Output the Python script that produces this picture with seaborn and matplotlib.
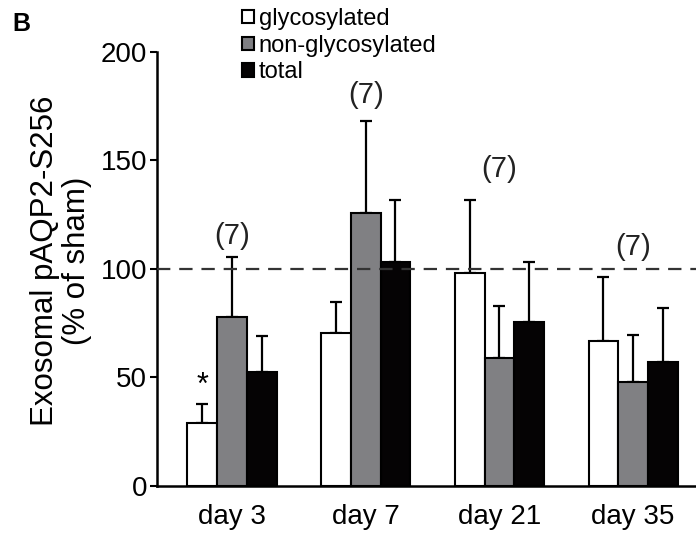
import pandas as pd
import numpy as np
import matplotlib.pyplot as plt
import seaborn as sns
from matplotlib.patches import Patch

# --- data ---
days = ['day 3', 'day 7', 'day 21', 'day 35']
series = ['glycosylated', 'non-glycosylated', 'total']
glyc = [29, 70.5, 98, 67]
glyc_err = [9, 14.5, 34, 29.5]
nonglyc = [78, 126, 59, 48]
nonglyc_err = [27.5, 42, 24, 21.5]
total = [52.5, 103, 75.5, 57]
total_err = [16.5, 29, 27.5, 25]
n_labels = ['(7)', '(7)', '(7)', '(7)']
n_label_y = [115, 180, 146, 110]
colors = ['white', '#7f7f83', '#050304']

df = pd.DataFrame({
    'day': days * 3,
    'type': np.repeat(series, len(days)),
    'value': glyc + nonglyc + total,
    'err': glyc_err + nonglyc_err + total_err,
})

# --- plot ---
sns.set_style('ticks')
plt.rcParams['font.family'] = ['Liberation Sans', 'DejaVu Sans']
plt.rcParams.update({'text.color': 'black', 'axes.labelcolor': 'black',
                     'xtick.color': 'black', 'ytick.color': 'black'})

fig = plt.figure(figsize=(6.96, 5.35), dpi=100)
ax = fig.add_axes([0.2256, 0.0916, 0.7744, 0.8112])

sns.barplot(data=df, x='day', y='value', hue='type', palette=colors,
            edgecolor='black', linewidth=1.5, width=0.667, gap=0,
            errorbar=None, legend=False, ax=ax, zorder=3)

# one-sided error bars (SEM, upward only)
for cont, s in zip(ax.containers, series):
    errs = df.loc[df['type'] == s, 'err'].values
    xs = [p.get_x() + p.get_width() / 2 for p in cont.patches]
    hs = [p.get_height() for p in cont.patches]
    ax.errorbar(xs, hs, yerr=[np.zeros(len(errs)), errs], fmt='none',
                ecolor='black', elinewidth=1.6, capsize=4.2, capthick=1.6,
                zorder=2)

# significance star on day 3 glycosylated
p0 = ax.containers[0].patches[0]
ax.text(p0.get_x() + p0.get_width() / 2, glyc[0] + glyc_err[0] + 1, '*',
        ha='center', va='bottom', fontsize=22)

# n labels
for i, (lab, y) in enumerate(zip(n_labels, n_label_y)):
    ax.text(i, y, lab, ha='center', va='center', fontsize=21, color='#222222')

ax.axhline(100, color='#333333', linestyle=(0, (6, 4)), linewidth=1.6, zorder=4)

ax.set_ylim(0, 200)
ax.set_xlim(-0.56, 3.47)
ax.set_yticks([0, 50, 100, 150, 200])
ax.set_xlabel('')
ax.set_ylabel('Exosomal pAQP2-S256\n(% of sham)', fontsize=22.5,
              linespacing=1.1)
ax.yaxis.set_label_coords(-0.12, 0.52)
ax.tick_params(axis='y', labelsize=20, length=5, width=1.5, pad=2)
ax.tick_params(axis='x', labelsize=20, length=0, pad=13)
for side in ['top', 'right']:
    ax.spines[side].set_visible(False)
for side in ['left', 'bottom']:
    ax.spines[side].set_linewidth(1.8)
    ax.spines[side].set_color('black')

handles = [Patch(facecolor=c, edgecolor='black', linewidth=1.5) for c in colors]
fig.legend(handles, series, loc='upper left',
           bbox_to_anchor=(242 / 696, 1 - 8 / 535), frameon=False,
           fontsize=17, handlelength=0.5, handleheight=0.5,
           handletextpad=0.2, labelspacing=0.2, borderpad=0,
           borderaxespad=0)

fig.text(12 / 696, 1 - 31 / 535, 'B', fontsize=18, fontweight='bold')

fig.savefig('out.png', dpi=100)
